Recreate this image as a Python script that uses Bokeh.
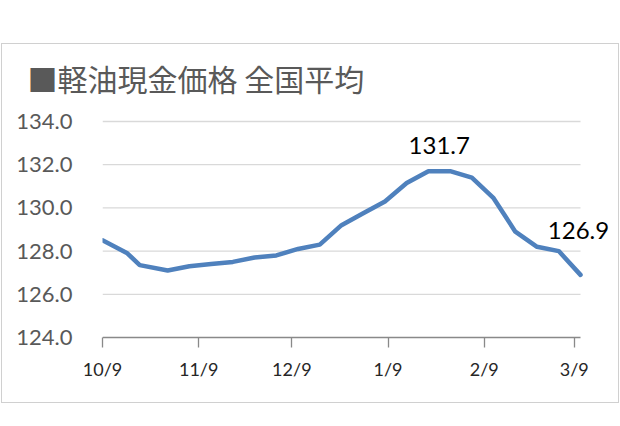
from bokeh.plotting import figure
from bokeh.models import Label, FixedTicker, NumeralTickFormatter, Range1d
from bokeh.embed import file_html
from bokeh.resources import INLINE
import pandas as pd

title_text = "■軽油現金価格 全国平均"
dates = ["2019-10-09", "2019-10-17", "2019-10-21", "2019-10-30", "2019-11-06",
         "2019-11-13", "2019-11-20", "2019-11-27", "2019-12-04", "2019-12-11",
         "2019-12-18", "2019-12-25", "2020-01-01", "2020-01-08", "2020-01-15",
         "2020-01-22", "2020-01-29", "2020-02-05", "2020-02-12", "2020-02-19",
         "2020-02-26", "2020-03-04", "2020-03-11"]
prices = [128.5, 127.9, 127.35, 127.1, 127.3, 127.4, 127.5, 127.7, 127.8, 128.1,
          128.3, 129.2, 129.75, 130.3, 131.15, 131.7, 131.7, 131.4, 130.45, 128.9,
          128.2, 128.0, 126.9]
tick_dates = ["2019-10-09", "2019-11-09", "2019-12-09", "2020-01-09", "2020-02-09", "2020-03-09"]
tick_labels = ["10/9", "11/9", "12/9", "1/9", "2/9", "3/9"]
y_ticks = [124, 126, 128, 130, 132, 134]
annotated = [15, 22]


def ms(s):
    return pd.Timestamp(s).value / 1e6


xs = [ms(d) for d in dates]
tick_ms = [ms(d) for d in tick_dates]

# layout (pixels)
data_w = 478          # pixels from first to last point
frame_w = 516         # frame extends to the right so the last label is not clipped
px_per_unit = 21.6
pad_bottom = 2
pad_top = 17
frame_h = int(round((y_ticks[-1] - y_ticks[0]) * px_per_unit)) + pad_bottom + pad_top
x_end = xs[0] + (xs[-1] - xs[0]) * frame_w / data_w

p = figure(x_axis_type="datetime", frame_width=frame_w, frame_height=frame_h,
           min_border_left=100, min_border_right=0, min_border_top=60, min_border_bottom=63,
           output_backend="svg", toolbar_location=None,
           x_range=Range1d(xs[0], x_end),
           y_range=Range1d(y_ticks[0] - pad_bottom / px_per_unit,
                           y_ticks[-1] + pad_top / px_per_unit))
p.styles = {"margin-left": "1px", "margin-top": "43px", "border": "1px solid #d0d0d0"}
p.outline_line_color = None
p.background_fill_color = "white"
p.border_fill_color = "white"

# grid lines (span only the data range, like the original)
p.xgrid.grid_line_color = None
p.ygrid.grid_line_color = None
gy = y_ticks[1:]
p.segment(x0=[xs[0]] * len(gy), x1=[xs[-1]] * len(gy), y0=gy, y1=gy,
          line_color="#d9d9d9", line_width=1.3)
# x axis baseline
p.segment(x0=[xs[0]], x1=[xs[-1]], y0=[y_ticks[0]], y1=[y_ticks[0]],
          line_color="#898989", line_width=1.3)

p.line(xs, prices, line_color="#4f81bd", line_width=4.5, line_join="round", line_cap="round")

# y axis
p.yaxis.ticker = FixedTicker(ticks=y_ticks)
p.yaxis.axis_line_color = None
p.yaxis.major_tick_line_color = None
p.yaxis.minor_tick_line_color = None
p.yaxis.formatter = NumeralTickFormatter(format="0.0")
p.yaxis.major_label_text_font = "Lato"
p.yaxis.major_label_text_font_size = "22px"
p.yaxis.major_label_text_color = "#595959"
p.yaxis.major_label_standoff = 24

# x axis
p.xaxis.ticker = FixedTicker(ticks=tick_ms)
p.xaxis.major_label_overrides = {t: l for t, l in zip(tick_ms, tick_labels)}
p.xaxis.axis_line_color = None
p.xaxis.major_tick_line_color = "#898989"
p.xaxis.major_tick_line_width = 1.3
p.xaxis.major_tick_in = 2
p.xaxis.major_tick_out = 8
p.xaxis.minor_tick_line_color = None
p.xaxis.major_label_text_font = "Lato"
p.xaxis.major_label_text_font_size = "18px"
p.xaxis.major_label_text_color = "#262626"
p.xaxis.major_label_standoff = 10

# title
p.title.text = title_text
p.title.align = "left"
p.title.offset = -75
p.title.standoff = 10
p.title.text_font = "Noto Sans CJK JP"
p.title.text_font_size = "30px"
p.title.text_font_style = "normal"
p.title.text_color = "#595959"

# data labels
i0, i1 = annotated
p.add_layout(Label(x=(xs[i0] + xs[i0 + 1]) / 2, y=prices[i0] + 1.17, text=f"{prices[i0]:.1f}",
                   text_font="Lato", text_font_size="24px", text_color="#000000",
                   text_align="center", text_baseline="middle"))
p.add_layout(Label(x=xs[i1], y=prices[i1] + 2.04, x_offset=-2, text=f"{prices[i1]:.1f}",
                   text_font="Lato", text_font_size="24px", text_color="#000000",
                   text_align="center", text_baseline="middle"))

open("out.html", "w").write(file_html(p, INLINE))
